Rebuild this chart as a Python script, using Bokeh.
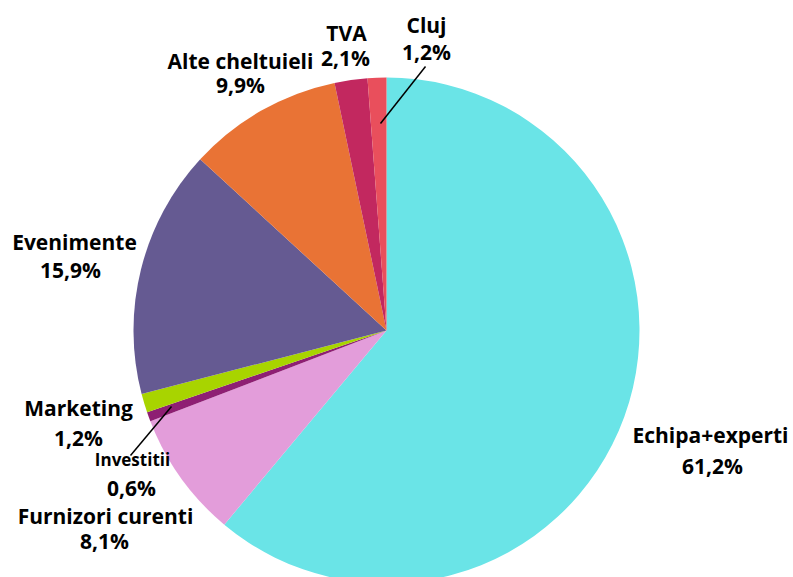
import math
from bokeh.plotting import figure
from bokeh.models import Range1d, ColumnDataSource
from bokeh.core.properties import value
from bokeh.embed import file_html
from bokeh.resources import INLINE

categories = ["Echipa+experti", "Furnizori curenti", "Investitii", "Marketing",
              "Evenimente", "Alte cheltuieli", "TVA", "Cluj"]
percents = [61.2, 8.1, 0.6, 1.2, 15.9, 9.9, 2.1, 1.2]
pct_labels = ["61,2%", "8,1%", "0,6%", "1,2%", "15,9%", "9,9%", "2,1%", "1,2%"]
colors = ["#6AE4E7", "#E39DDA", "#8E1F73", "#A8D400", "#655A92", "#E97335", "#C2285F", "#E94F5C"]

W, H = 793, 577
PAGE_H = 577  # screen y -> data y conversion

def Y(ys):
    return PAGE_H - ys

p = figure(width=W, height=H, output_backend="svg", toolbar_location=None,
           x_range=Range1d(0, W), y_range=Range1d(PAGE_H - H, PAGE_H),
           min_border=0)
p.axis.visible = False
p.grid.visible = False
p.outline_line_color = None
p.background_fill_color = "white"

cx, cy, r = 386, Y(330), 253
total = sum(percents)
starts, ends = [], []
cum = 0.0
for v in percents:
    starts.append(math.pi / 2 - cum / total * 2 * math.pi)
    cum += v
    ends.append(math.pi / 2 - cum / total * 2 * math.pi)

src = ColumnDataSource(dict(start=starts, end=ends, color=colors, cat=categories))
p.wedge(x=cx, y=cy, radius=r, start_angle="start", end_angle="end", direction="clock",
        fill_color="color", line_color=None, source=src)

# leader lines
p.segment(x0=[425, 130], y0=[Y(66), Y(455)], x1=[380, 171], y1=[Y(123), Y(406)],
          line_color="black", line_width=1.5)

# label positions (screen coords): name line, pct line
pos = {
    "Echipa+experti": ((710, 434), (712, 465)),
    "Furnizori curenti": ((105, 515), (104, 540)),
    "Investitii": ((132, 459), (131, 487)),
    "Marketing": ((78, 407), (78, 437)),
    "Evenimente": ((74, 241), (70, 269)),
    "Alte cheltuieli": ((240, 60), (240, 84)),
    "TVA": ((346, 32), (345, 57)),
    "Cluj": ((426, 24), (426, 51)),
}
xs, ys, texts, sizes = [], [], [], []
for c, pl in zip(categories, pct_labels):
    (x1, y1), (x2, y2) = pos[c]
    fs = "17px" if c == "Investitii" else "21px"
    xs += [x1, x2]; ys += [Y(y1), Y(y2)]; texts += [c, pl]; sizes += [fs, "21px"]

p.text(x=xs, y=ys, text=texts, text_align="center", text_baseline="middle",
       text_font=value("Open Sans"), text_font_style="bold", text_font_size=sizes,
       text_color="#000000")

open("out.html", "w").write(file_html(p, INLINE))
